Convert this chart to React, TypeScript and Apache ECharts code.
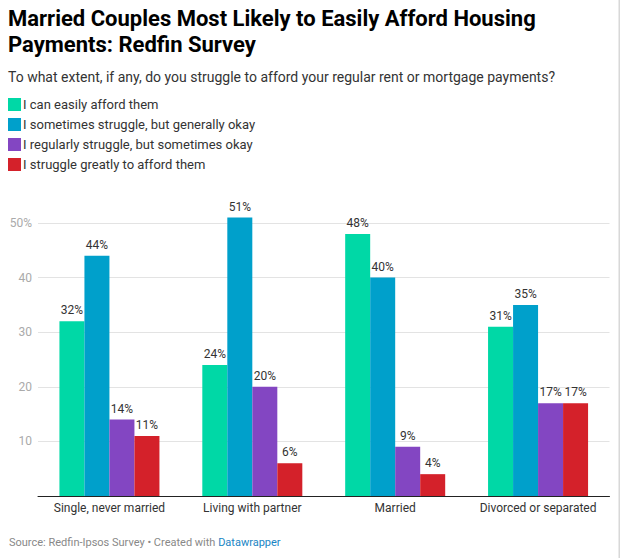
import React, { useEffect, useRef } from "react";
import * as echarts from "echarts";

const categories = ["Single, never married", "Living with partner", "Married", "Divorced or separated"];
const seriesNames = [
  "I can easily afford them",
  "I sometimes struggle, but generally okay",
  "I regularly struggle, but sometimes okay",
  "I struggle greatly to afford them",
];
const easily = [32, 24, 48, 31];
const sometimes = [44, 51, 40, 35];
const regularly = [14, 20, 9, 17];
const greatly = [11, 6, 4, 17];
const colors = ["#00d8a6", "#00a0cb", "#8346c2", "#d4212a"];
const yTicks = [0, 10, 20, 30, 40, 50];

export default function App() {
  const ref = useRef<HTMLDivElement>(null);
  useEffect(() => {
    document.body.style.margin = "0";
    const chart = echarts.init(ref.current!, null, { renderer: "svg" });
    const font = "Roboto";
    const values = [easily, sometimes, regularly, greatly];
    chart.setOption({
      animation: false,
      textStyle: { fontFamily: font },
      title: [
        {
          text: "Married Couples Most Likely to Easily Afford Housing\nPayments: Redfin Survey",
          left: 8,
          top: 5,
          padding: 0,
          textStyle: { fontSize: 22, fontWeight: "bold", color: "#000", lineHeight: 26, fontFamily: font },
        },
        {
          text: "To what extent, if any, do you struggle to afford your regular rent or mortgage payments?",
          left: 8,
          top: 70,
          padding: 0,
          textStyle: { fontSize: 14, fontWeight: "normal", color: "#333", fontFamily: font },
        },
        {
          text: "{g|Source: Redfin-Ipsos Survey • Created with }{b|Datawrapper}",
          left: 9,
          top: 537,
          padding: 0,
          textStyle: {
            fontWeight: "normal",
            rich: {
              g: { fontSize: 11, color: "#888", fontFamily: font, fontWeight: "normal" },
              b: { fontSize: 11, color: "#1a85c4", fontFamily: font, fontWeight: "normal" },
            },
          },
        },
      ],
      legend: {
        orient: "vertical",
        left: 8,
        top: 98,
        padding: 0,
        itemWidth: 13,
        itemHeight: 13,
        itemGap: 7,
        icon: "rect",
        selectedMode: false,
        textStyle: { fontSize: 13, color: "#333", fontFamily: font, padding: [0, 0, 0, -3] },
        data: seriesNames,
      },
      grid: { left: 38, right: 10.5, top: 223, bottom: 62, containLabel: false },
      xAxis: {
        type: "category",
        data: categories,
        axisLine: { lineStyle: { color: "#222", width: 1 } },
        axisTick: { show: false },
        axisLabel: { interval: 0, fontSize: 12, color: "#333", margin: 6, fontFamily: font },
      },
      yAxis: {
        type: "value",
        min: yTicks[0],
        max: yTicks[yTicks.length - 1],
        interval: 10,
        axisLine: { show: false },
        axisTick: { show: false },
        splitLine: { lineStyle: { color: "#e3e3e3", width: 1 } },
        axisLabel: {
          showMinLabel: false,
          fontSize: 12,
          color: "#aaa",
          margin: 6,
          fontFamily: font,
          formatter: (v: number) => (v === 50 ? "50%" : String(v)),
        },
      },
      series: seriesNames.map((name, i) => ({
        name,
        type: "bar",
        data: values[i],
        barGap: "0%",
        barCategoryGap: "30%",
        clip: false,
        itemStyle: { color: colors[i] },
        label: {
          show: true,
          position: "top",
          distance: 5,
          fontSize: 12,
          color: "#333",
          fontFamily: font,
          formatter: (p: any) => p.value + "%",
        },
      })),
      graphic: [
        { type: "rect", shape: { x: 618.5, y: 0, width: 1.5, height: 558 }, style: { fill: "#d8d8d8" } },
      ],
    });
    return () => chart.dispose();
  }, []);
  return <div ref={ref} style={{ width: 620, height: 558 }} />;
}
